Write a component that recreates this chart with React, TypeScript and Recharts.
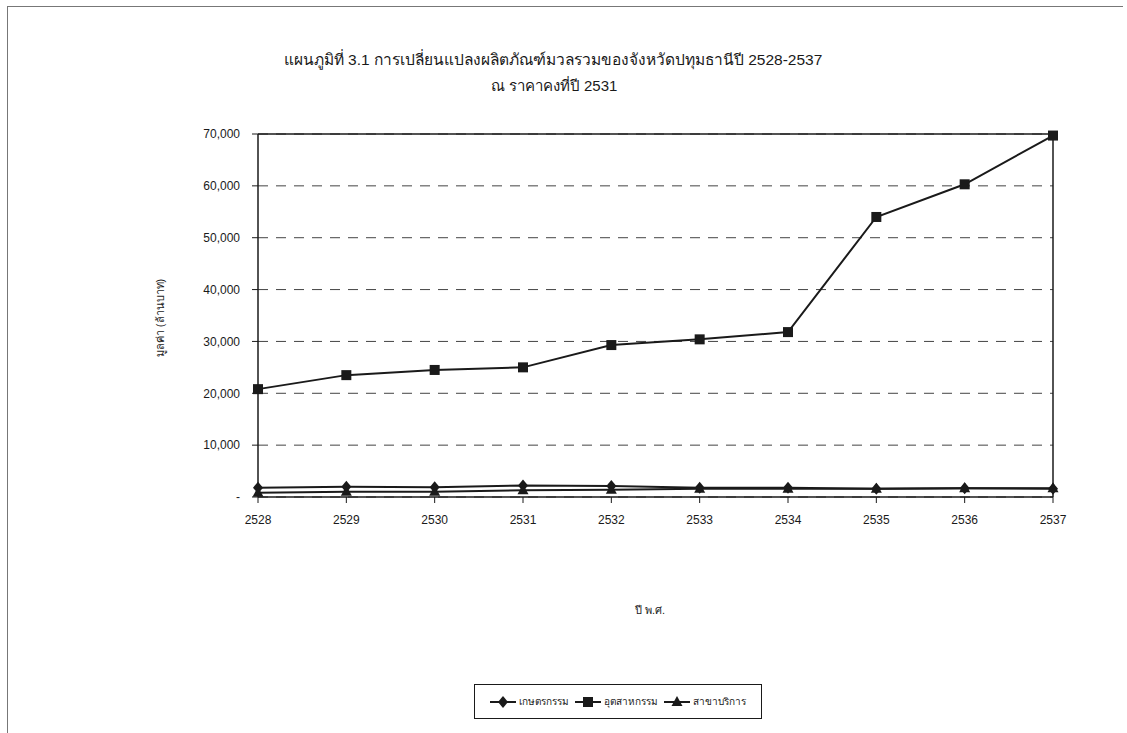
import { LineChart, Line, XAxis, YAxis, CartesianGrid, ReferenceLine } from 'recharts';

const years = ['2528', '2529', '2530', '2531', '2532', '2533', '2534', '2535', '2536', '2537'];
const agriculture = [1800, 2000, 1900, 2200, 2100, 1800, 1800, 1600, 1700, 1600];
const industry = [20800, 23500, 24500, 25000, 29300, 30400, 31800, 54000, 60300, 69700];
const services = [800, 1000, 1000, 1300, 1400, 1600, 1600, 1600, 1700, 1700];
const yTicks = [0, 10000, 20000, 30000, 40000, 50000, 60000, 70000];

const data = years.map((year, i) => ({
  year,
  agriculture: agriculture[i],
  industry: industry[i],
  services: services[i],
}));

const FONT = '"Liberation Sans", Arial, sans-serif';
const INK = '#1a1a1a';

type Shape = 'diamond' | 'square' | 'triangle';

function Marker({ cx, cy, shape }: { cx: number; cy: number; shape: Shape }) {
  if (cx == null || cy == null) return null;
  if (shape === 'square') {
    return <rect x={cx - 5} y={cy - 5} width={10} height={10} fill={INK} />;
  }
  if (shape === 'triangle') {
    return <polygon points={`${cx},${cy - 6} ${cx + 5.5},${cy + 4} ${cx - 5.5},${cy + 4}`} fill={INK} />;
  }
  return <polygon points={`${cx},${cy - 6} ${cx + 5},${cy} ${cx},${cy + 6} ${cx - 5},${cy}`} fill={INK} />;
}

const series: { key: string; name: string; shape: Shape }[] = [
  { key: 'agriculture', name: 'เกษตรกรรม', shape: 'diamond' },
  { key: 'industry', name: 'อุตสาหกรรม', shape: 'square' },
  { key: 'services', name: 'สาขาบริการ', shape: 'triangle' },
];

// legend drawn by hand, outside the chart so it doesn't eat plot height
function LegendBox() {
  return (
    <div
      style={{
        position: 'absolute',
        left: 474,
        top: 684,
        width: 288,
        height: 35,
        border: `1px solid ${INK}`,
        display: 'flex',
        alignItems: 'center',
        justifyContent: 'center',
        gap: 6,
        fontFamily: FONT,
        fontSize: 10,
        color: INK,
        boxSizing: 'border-box',
        whiteSpace: 'nowrap',
      }}
    >
      {series.map((s) => (
        <span key={s.key} style={{ display: 'flex', alignItems: 'center', gap: 3 }}>
          <svg width={26} height={14}>
            <line x1={0} y1={7} x2={26} y2={7} stroke={INK} strokeWidth={2} />
            <Marker cx={13} cy={7} shape={s.shape} />
          </svg>
          {s.name}
        </span>
      ))}
    </div>
  );
}

export default function App() {
  return (
    <div style={{ position: 'absolute', left: 0, top: 0, width: 1127, height: 733, background: '#fff' }}>
      <div style={{ position: 'absolute', left: 7, top: 6, width: 1115, height: 727, borderTop: '1.5px solid #777', borderLeft: '1.5px solid #777' }} />
      <div style={{ position: 'absolute', left: 0, top: 47, width: 1106, textAlign: 'center', fontFamily: FONT, fontSize: 15.5, color: INK }}>
        แผนภูมิที่ 3.1  การเปลี่ยนแปลงผลิตภัณฑ์มวลรวมของจังหวัดปทุมธานีปี 2528-2537
      </div>
      <div style={{ position: 'absolute', left: 0, top: 74, width: 1108, textAlign: 'center', fontFamily: FONT, fontSize: 15, color: INK }}>
        ณ ราคาคงที่ปี 2531
      </div>
      <div style={{ position: 'absolute', left: 0, top: 601, width: 1300, textAlign: 'center', fontFamily: FONT, fontSize: 11, color: INK }}>
        ปี พ.ศ.
      </div>
      <div
        style={{
          position: 'absolute',
          left: 160,
          top: 318,
          transform: 'translate(-50%, -50%) rotate(-90deg)',
          whiteSpace: 'nowrap',
          fontFamily: FONT,
          fontSize: 11,
          color: INK,
        }}
      >
        มูลค่า (ล้านบาท)
      </div>
      <div style={{ position: 'absolute', left: 0, top: 0 }}>
        <LineChart width={1127} height={733} data={data} margin={{ top: 134, right: 74, left: 0, bottom: 206 }}>
          <CartesianGrid vertical={false} stroke="#444" strokeDasharray="10 8" />
          <XAxis
            dataKey="year"
            height={30}
            axisLine={{ stroke: INK, strokeWidth: 1.5 }}
            tickLine={{ stroke: INK }}
            tickSize={6}
            tickMargin={12}
            tick={{ fill: INK, fontSize: 12, fontFamily: FONT }}
            padding={{ left: 0, right: 0 }}
          />
          <YAxis
            width={258}
            domain={[0, 70000]}
            ticks={yTicks}
            interval={0}
            axisLine={{ stroke: INK, strokeWidth: 1.5 }}
            tickLine={{ stroke: INK }}
            tickSize={6}
            tickMargin={12}
            tick={{ fill: INK, fontSize: 12, fontFamily: FONT }}
            tickFormatter={(v: number) => (v === 0 ? '-' : v.toLocaleString('en-US'))}
          />
          <ReferenceLine y={70000} stroke={INK} strokeWidth={1.5} />
          <ReferenceLine x="2537" stroke={INK} strokeWidth={1.5} />
          {series.map((s) => (
            <Line
              key={s.key}
              dataKey={s.key}
              name={s.name}
              type="linear"
              stroke={INK}
              strokeWidth={2}
              isAnimationActive={false}
              dot={(p: any) => <Marker key={`${s.key}-${p.index}`} cx={p.cx} cy={p.cy} shape={s.shape} />}
              activeDot={false}
            />
          ))}
        </LineChart>
      </div>
      <LegendBox />
    </div>
  );
}
